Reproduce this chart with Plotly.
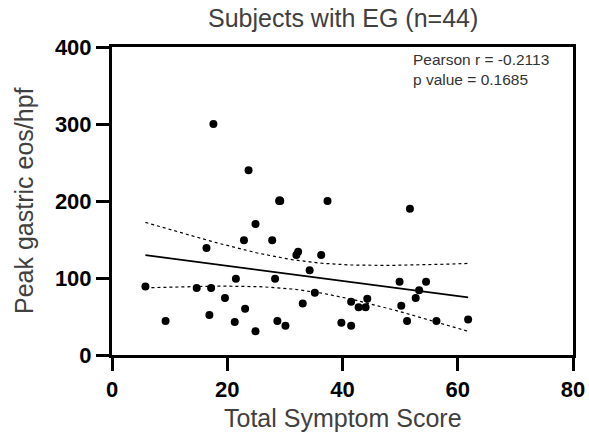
import numpy as np
import plotly.graph_objects as go

# Data (n = 44)
symptom_score = [5.8, 9.3, 17.6, 16.4, 14.7, 17.2, 16.9, 19.6, 21.5, 21.3,
                 23.1, 22.9, 23.7, 24.9, 24.9, 27.8, 28.3, 29.0, 29.2, 28.7,
                 30.1, 32.0, 32.3, 33.1, 34.3, 35.2, 36.3, 37.4, 39.8, 41.5,
                 41.5, 42.8, 44.0, 44.3, 49.9, 50.2, 51.2, 51.7, 52.7, 53.3,
                 54.5, 56.3, 61.8, 29.1]
peak_eos = [89, 44, 300, 139, 87, 87, 52, 74, 99, 43,
            60, 149, 240, 170, 31, 149, 99, 200, 200, 44,
            38, 130, 134, 67, 110, 81, 130, 200, 42, 38,
            69, 62, 62, 73, 95, 64, 44, 190, 74, 84,
            95, 44, 46, 201]
title_text = "Subjects with EG (n=44)"
x_title = "Total Symptom Score"
y_title = "Peak gastric eos/hpf"
x_ticks = [0, 20, 40, 60, 80]
y_ticks = [0, 100, 200, 300, 400]
stats_text = "Pearson r = -0.2113<br>p value = 0.1685"

x = np.array(symptom_score, dtype=float)
y = np.array(peak_eos, dtype=float)
n = len(x)
slope, intercept = np.polyfit(x, y, 1)
xf = np.linspace(x.min(), x.max(), 100)
yf = intercept + slope * xf
resid = y - (intercept + slope * x)
s = np.sqrt(np.sum(resid ** 2) / (n - 2))
t_crit = 2.018
se = s * np.sqrt(1.0 / n + (xf - x.mean()) ** 2 / np.sum((x - x.mean()) ** 2))
upper = yf + t_crit * se
lower = yf - t_crit * se

fig = go.Figure()
fig.add_trace(go.Scatter(x=xf, y=upper, mode="lines",
                         line=dict(color="black", width=1.2, dash="dot"), hoverinfo="skip"))
fig.add_trace(go.Scatter(x=xf, y=lower, mode="lines",
                         line=dict(color="black", width=1.2, dash="dot"), hoverinfo="skip"))
fig.add_trace(go.Scatter(x=xf, y=yf, mode="lines",
                         line=dict(color="black", width=1.6), hoverinfo="skip"))
fig.add_trace(go.Scatter(x=x, y=y, mode="markers",
                         marker=dict(color="black", size=8)))

W, H = 589, 442
L, R, T, B = 112, 16, 47, 87
PW, PH = W - L - R, H - T - B

fig.update_layout(
    width=W, height=H,
    paper_bgcolor="white", plot_bgcolor="white",
    showlegend=False,
    margin=dict(l=L, r=R, t=T, b=B, autoexpand=False),
    font=dict(family="Arial, Liberation Sans, sans-serif", color="#404040"),
)
axis_common = dict(
    showgrid=False, zeroline=False, showline=True, linecolor="black", linewidth=3,
    mirror=True, ticks="outside", ticklen=13, tickwidth=3, tickcolor="black",
    automargin=False,
    tickfont=dict(family="Arial, Liberation Sans, sans-serif", size=22, color="black", weight="bold"),
)
fig.update_xaxes(range=[0, 80], tickvals=x_ticks, **axis_common)
fig.update_yaxes(range=[0, 400], tickvals=y_ticks, **axis_common)

fig.add_annotation(text=title_text, xref="paper", yref="paper",
                   x=0.5, y=1 + (T - 18) / PH, xanchor="center", yanchor="middle",
                   showarrow=False, font=dict(size=25, color="#404040"))
fig.add_annotation(text=x_title, xref="paper", yref="paper",
                   x=0.5, y=-(418 - (T + PH)) / PH, xanchor="center", yanchor="middle",
                   showarrow=False, font=dict(size=25, color="#404040"))
fig.add_annotation(text=y_title, xref="paper", yref="paper",
                   x=-(L - 24) / PW, y=0.5, xanchor="center", yanchor="middle",
                   textangle=-90, showarrow=False, font=dict(size=25, color="#404040"))
fig.add_annotation(text=stats_text,
                   xref="paper", yref="paper", x=(411 - L) / PW, y=1 - 2 / PH,
                   xanchor="left", yanchor="top", align="left", showarrow=False,
                   font=dict(size=15.5, color="#333333"))

fig.write_html("out.html", config={"displayModeBar": False},
               post_script="document.body.style.margin='0';document.body.style.overflow='hidden';")
